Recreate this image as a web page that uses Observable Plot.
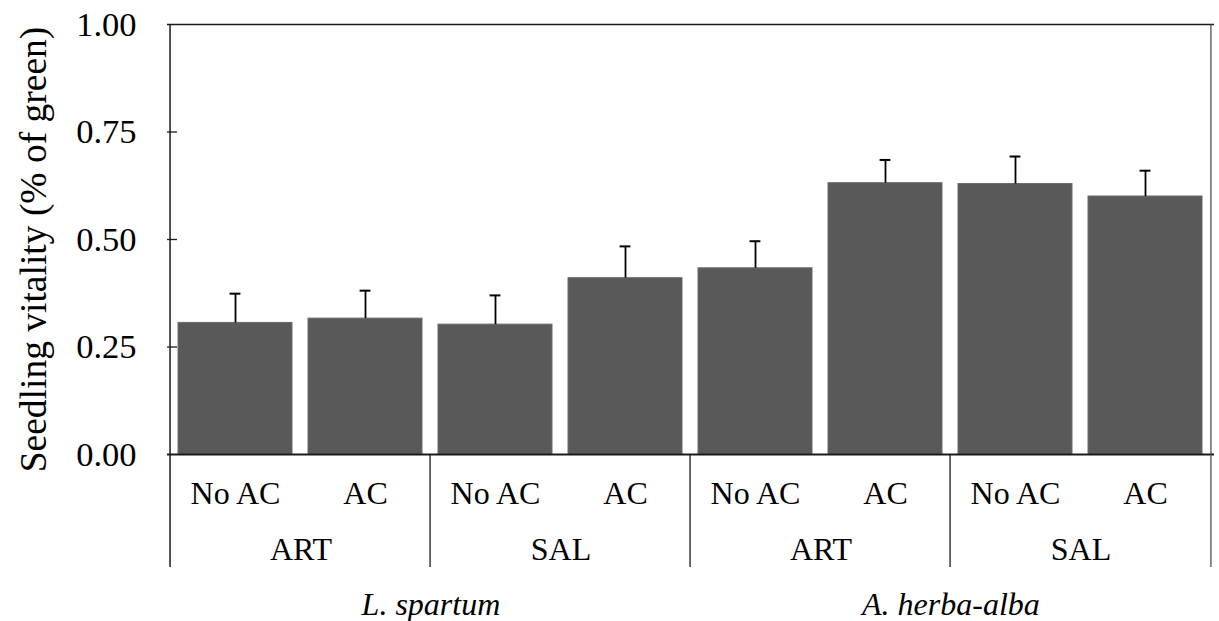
<!DOCTYPE html>
<html>
<head>
<meta charset="utf-8">
<script src="https://cdn.jsdelivr.net/npm/d3@7"></script>
<script src="https://cdn.jsdelivr.net/npm/@observablehq/plot@0.6"></script>
<style>
  html, body { margin: 0; padding: 0; background: #fff; }
</style>
</head>
<body>
<div id="chart"></div>
<script>
// ---- data ----
const species = ["L. spartum", "L. spartum", "L. spartum", "L. spartum",
                 "A. herba-alba", "A. herba-alba", "A. herba-alba", "A. herba-alba"];
const groups = ["ART", "ART", "SAL", "SAL", "ART", "ART", "SAL", "SAL"];
const treatments = ["No AC", "AC", "No AC", "AC", "No AC", "AC", "No AC", "AC"];
const means = [0.306, 0.316, 0.302, 0.410, 0.433, 0.631, 0.629, 0.600];
const errors = [0.068, 0.065, 0.068, 0.074, 0.063, 0.054, 0.064, 0.060];
const yTicks = [0, 0.25, 0.5, 0.75, 1];
const yTitle = "Seedling vitality (% of green)";

const data = means.map((m, i) => ({
  key: `${species[i]}|${groups[i]}|${treatments[i]}`,
  species: species[i], group: groups[i], treatment: treatments[i],
  mean: m, upper: m + errors[i]
}));

// ---- layout ----
const W = 1219, H = 621;
const ML = 167, MR = 5, MT = 24, MB = 167;
const frameW = W - ML - MR, frameH = H - MT - MB;
const padInner = 0.12, padOuter = 0.06;
const step = frameW / (data.length - padInner + 2 * padOuter);
const bandW = step * (1 - padInner);
const capW = 12;
const below = 113; // how far separators extend below the baseline

const groupStarts = data.filter((d, i) => i % 2 === 0);
const innerDividers = data.filter((d, i) => i % 2 === 0 && i > 0);
const speciesMid = data.filter((d, i) => i % 4 === 1);
const font = "'Liberation Serif', 'Tinos', 'Times New Roman', 'DejaVu Serif', 'Noto Serif', serif";
const lineColor = "#1a1a1a";

const chart = Plot.plot({
  width: W, height: H,
  marginLeft: ML, marginRight: MR, marginTop: MT, marginBottom: MB,
  style: { fontFamily: font, fontSize: "32px", background: "#fff", color: "#000", overflow: "visible" },
  x: { type: "band", domain: data.map(d => d.key), paddingInner: padInner, paddingOuter: padOuter, align: 0.5, axis: null },
  y: { domain: [0, 1], axis: null },
  marks: [
    Plot.barY(data, { x: "key", y: "mean", fill: "#595959", stroke: "#6a6a6a", strokeWidth: 1 }),
    // error bars
    Plot.ruleX(data, { x: "key", y1: "mean", y2: "upper", stroke: "#000", strokeWidth: 1.8 }),
    Plot.tickY(data, { x: "key", y: "upper", stroke: "#000", strokeWidth: 2,
      insetLeft: (bandW - capW) / 2, insetRight: (bandW - capW) / 2 }),
    // frame lines
    Plot.ruleY([1], { stroke: lineColor, strokeWidth: 1.5 }),
    Plot.ruleY([0], { stroke: lineColor, strokeWidth: 1.8 }),
    Plot.ruleX([data[0]], { x: "key", dx: -step / 2, insetBottom: -below, stroke: lineColor, strokeWidth: 1.5 }),
    Plot.ruleX([data[data.length - 1]], { x: "key", dx: step / 2, insetBottom: -below, stroke: "#444", strokeWidth: 1.2 }),
    Plot.ruleX(innerDividers, { x: "key", dx: -step / 2, insetTop: frameH, insetBottom: -below, stroke: lineColor, strokeWidth: 1.3 }),
    // inward y ticks
    Plot.ruleY(yTicks.filter(t => t > 0 && t < 1), { insetRight: frameW - 10, stroke: lineColor, strokeWidth: 1.3 }),
    // y axis labels
    Plot.axisY({ ticks: yTicks, tickFormat: d3.format(".2f"), tickSize: 0, tickPadding: 31,
      fontSize: 34.5, fontFamily: font, label: null }),
    Plot.text([yTitle], { text: d => d, frameAnchor: "left", textAnchor: "middle", lineAnchor: "middle",
      rotate: -90, dx: -134, dy: 10, fontSize: 37.5, fontFamily: font, fill: "#000" }),
    // x category labels
    Plot.text(data, { x: "key", text: "treatment", frameAnchor: "bottom", lineAnchor: "bottom", dy: 49,
      fontSize: 32, fontFamily: font, fill: "#000" }),
    Plot.text(groupStarts, { x: "key", text: "group", frameAnchor: "bottom", lineAnchor: "bottom",
      dx: step / 2, dy: 105, fontSize: 32, fontFamily: font, fill: "#000" }),
    Plot.text(speciesMid, { x: "key", text: "species", frameAnchor: "bottom", lineAnchor: "bottom",
      dx: step / 2, dy: 160, fontSize: 32, fontFamily: font, fontStyle: "italic", fill: "#000" })
  ]
});

document.getElementById("chart").appendChild(chart);
</script>
</body>
</html>
